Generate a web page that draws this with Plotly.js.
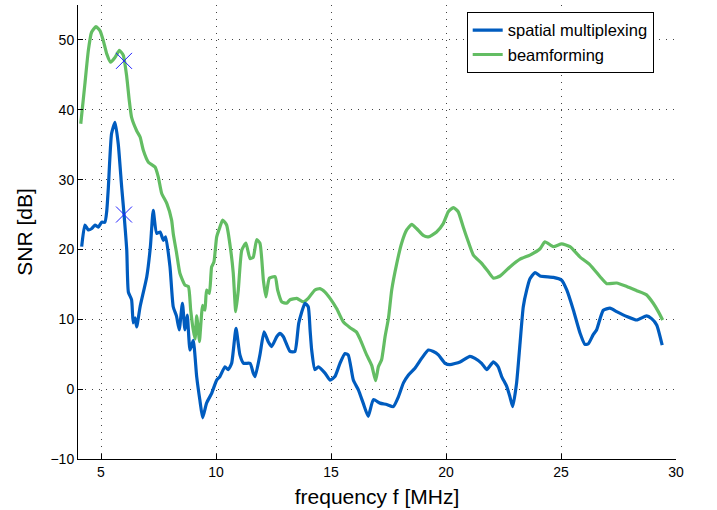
<!DOCTYPE html>
<html>
<head>
<meta charset="utf-8">
<script src="https://cdn.plot.ly/plotly-3.0.1.min.js"></script>
<style>html,body{margin:0;padding:0;background:#fff;}#chart{width:717px;height:510px;}</style>
</head>
<body>
<div id="chart"></div>
<script>
var spatialX = [4.16,4.3,4.45,4.6,4.74,4.88,5.03,5.17,5.25,5.32,5.46,5.61,5.75,5.9,6.0,6.12,6.19,6.33,6.4,6.48,6.55,6.7,6.99,7.15,7.27,7.42,7.57,7.71,7.81,8.0,8.14,8.28,8.4,8.54,8.65,8.75,8.87,9.01,9.16,9.3,9.42,9.59,9.81,10.03,10.17,10.39,10.53,10.68,10.87,11.04,11.2,11.48,11.62,11.7,11.91,12.09,12.27,12.42,12.64,12.78,12.93,13.22,13.43,13.6,13.87,14.01,14.09,14.16,14.3,14.45,14.74,14.96,15.17,15.39,15.61,15.75,15.97,16.19,16.4,16.62,16.84,17.13,17.42,17.71,17.93,18.15,18.36,18.65,18.94,19.23,19.45,19.67,19.96,20.17,20.61,21.04,21.26,21.55,21.77,22.06,22.27,22.42,22.64,22.78,22.9,23.07,23.22,23.36,23.51,23.65,23.87,24.09,24.67,25.03,25.25,25.54,25.83,26.04,26.19,26.4,26.55,26.7,26.84,27.13,27.42,27.86,28.29,28.72,28.94,29.16,29.4];
var spatialY = [20.4,23.5,22.8,23.0,23.5,23.2,23.9,23.9,25.5,28.9,36.6,38.2,35.1,28.9,25.1,19.9,13.9,12.8,9.5,10.2,8.9,11.8,16.1,20.5,25.6,22.3,22.5,21.3,21.8,17.5,11.8,10.5,8.5,12.3,8.5,10.6,5.6,7.0,1.8,-1.6,-4.1,-2.0,-0.6,1.3,1.8,3.2,2.8,3.7,8.7,4.9,3.7,3.7,2.3,1.8,4.9,8.2,6.8,6.1,7.5,8.0,7.5,5.4,5.4,9.5,12.3,11.8,8.5,5.6,2.8,3.2,2.3,1.3,1.8,3.7,5.1,4.9,1.3,-0.1,-2.0,-3.9,-1.5,-2.0,-2.2,-2.5,-1.1,0.9,2.0,3.0,4.4,5.6,5.4,4.9,3.7,3.5,3.9,4.7,4.4,3.7,2.8,3.9,3.2,1.8,0.4,-1.1,-2.5,0.9,6.6,11.8,14.2,15.8,16.7,16.2,16.0,15.6,14.2,11.3,8.0,6.4,6.5,7.8,8.5,10.1,11.3,11.6,11.1,10.4,9.9,10.5,10.1,9.2,6.3];

var beamX = [4.12,4.3,4.45,4.59,4.78,4.96,5.1,5.25,5.42,5.61,5.8,5.97,6.12,6.23,6.33,6.55,6.7,6.84,7.06,7.35,7.49,7.64,7.86,8.07,8.14,8.29,8.43,8.65,8.8,8.9,9.01,9.09,9.16,9.23,9.28,9.42,9.52,9.59,9.71,9.81,9.91,10.03,10.17,10.29,10.46,10.64,10.75,10.86,10.97,11.12,11.3,11.48,11.62,11.77,11.91,12.06,12.17,12.32,12.57,12.68,12.86,13.07,13.22,13.51,13.8,14.01,14.3,14.52,14.74,14.96,15.25,15.54,15.83,16.1,16.26,16.55,16.77,16.94,17.06,17.2,17.35,17.5,17.64,17.86,18.07,18.29,18.51,18.72,19.01,19.23,19.59,19.88,20.1,20.32,20.53,20.75,20.97,21.19,21.55,21.84,22.06,22.35,22.78,23.22,23.65,24.09,24.3,24.67,25.03,25.39,25.83,26.26,26.7,26.99,27.42,27.86,28.29,28.72,29.01,29.23,29.42];
var beamY = [38.0,43.7,48.5,51.1,51.9,51.3,49.9,48.0,46.8,47.5,48.5,47.8,44.7,41.3,38.9,37.0,36.1,34.2,32.5,31.8,30.4,28.0,26.6,24.2,22.3,19.4,16.6,14.9,14.7,11.3,8.5,7.2,10.5,8.5,6.8,12.0,11.3,14.2,13.7,17.5,18.2,21.8,23.2,24.2,23.5,19.9,16.6,11.1,14.2,19.9,20.9,18.7,18.9,21.4,20.9,15.6,13.2,15.9,16.1,14.2,12.5,12.3,12.8,13.0,12.5,13.0,14.2,14.4,13.9,13.0,11.5,9.6,8.8,8.2,7.2,4.9,3.4,1.2,3.2,4.2,7.5,10.2,14.2,18.0,20.9,22.8,23.6,23.0,22.0,21.8,22.5,23.7,25.4,26.0,25.4,23.2,21.1,19.2,18.0,16.8,15.9,16.2,17.5,18.6,19.2,20.1,21.1,20.4,20.8,20.4,18.9,17.8,16.1,15.1,15.2,14.7,14.1,13.5,12.3,11.1,9.9];

var markerX = [6, 6];
var markerY = [47, 25];

var seriesNames = ['spatial multiplexing', 'beamforming'];
var xTicks = [5, 10, 15, 20, 25, 30];
var yTicks = [-10, 0, 10, 20, 30, 40, 50];

var traces = [
  {x: beamX, y: beamY, type: 'scatter', mode: 'lines', name: seriesNames[1],
   line: {color: '#63bd63', width: 3.2, shape: 'spline', smoothing: 0.5}},
  {x: spatialX, y: spatialY, type: 'scatter', mode: 'lines', name: seriesNames[0],
   line: {color: '#005cbf', width: 3.2, shape: 'spline', smoothing: 0.5}},
  {x: markerX, y: markerY, type: 'scatter', mode: 'markers', showlegend: false,
   marker: {symbol: 'x-thin-open', size: 16, color: '#2020ff', line: {color: '#2020ff', width: 1}}}
];

var axisFont = {family: 'Liberation Sans, Arial, sans-serif', size: 14, color: '#000'};

var layout = {
  width: 717, height: 510,
  margin: {l: 78, r: 41, t: 5, b: 51},
  paper_bgcolor: '#fff', plot_bgcolor: '#fff',
  font: axisFont,
  showlegend: true,
  legend: {x: 0.65, y: 0.985, xanchor: 'left', yanchor: 'top',
           bgcolor: '#fff', bordercolor: '#000', borderwidth: 1,
           traceorder: 'reversed', tracegroupgap: 0,
           font: {family: 'Liberation Sans, Arial, sans-serif', size: 16.5, color: '#000'}},
  xaxis: {range: [4, 30], tickvals: xTicks, ticktext: xTicks.map(String),
          showline: true, linecolor: '#000', linewidth: 1,
          ticks: 'inside', ticklen: 5, tickcolor: '#000',
          showgrid: true, gridcolor: '#444', gridwidth: 1, griddash: '1px,6px',
          zeroline: false, tickfont: axisFont,
          title: {text: 'frequency f [MHz]', font: {family: 'Liberation Sans, Arial, sans-serif', size: 21, color: '#000'}, standoff: 10}},
  yaxis: {range: [-10, 55], tickvals: yTicks, ticktext: yTicks.map(function(v){return v < 0 ? '\u2212' + Math.abs(v) : String(v);}),
          showline: true, linecolor: '#000', linewidth: 1,
          ticks: 'inside', ticklen: 5, tickcolor: '#000',
          showgrid: true, gridcolor: '#444', gridwidth: 1, griddash: '1px,6px',
          zeroline: false, tickfont: axisFont,
          title: {text: 'SNR [dB]', font: {family: 'Liberation Sans, Arial, sans-serif', size: 21, color: '#000'}, standoff: 12}}
};

Plotly.newPlot('chart', traces, layout, {displayModeBar: false, staticPlot: true});
</script>
</body>
</html>
